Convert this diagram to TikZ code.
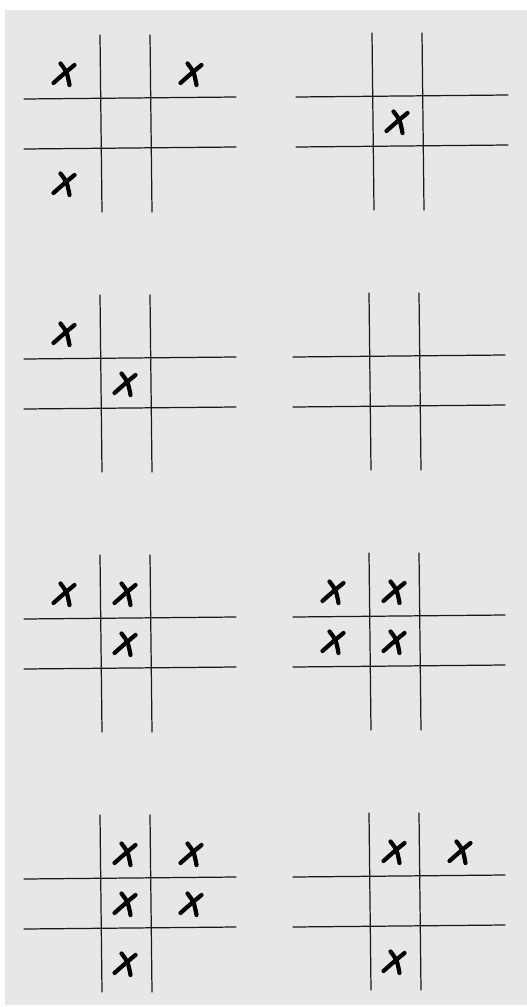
\documentclass[tikz,border=0pt]{standalone}
\usepackage{tikz}
\usetikzlibrary{calc}
\definecolor{fondo}{HTML}{E6E7E9}
\tikzset{
  linea/.style  = {black!90, line width=0.7pt, line cap=round},
  trazo/.style  = {black, line width=2.4pt, line cap=round},
  equis/.pic    = {
    \draw[trazo] (-10.5,9) .. controls (-1,0.5) .. (10.5,-9);
    \draw[trazo] (-3.5,-10.5) .. controls (3,-2) .. (5.5,11);
  },
  tablero/.pic  = {
    \draw[linea] (-25,-88) -- (-23,89);
    \draw[linea] (25,-88) -- (27,89);
    \draw[linea] (-101,-24) -- (111,-26);
    \draw[linea] (-101,26) -- (111,24);
  }
}

\begin{document}
\begin{tikzpicture}[x=0.02cm, y=-0.02cm]
  \useasboundingbox (0,0) rectangle (527,1007);
  \fill[fondo] (5,10) rectangle (527,1005);

  % centros de los tableros
  \coordinate (T1) at (125,123);
  \coordinate (T2) at (397,121);
  \coordinate (T3) at (125,383);
  \coordinate (T4) at (394,381);
  \coordinate (T5) at (125,643);
  \coordinate (T6) at (394,641);
  \coordinate (T7) at (125,903);
  \coordinate (T8) at (394,901);

  \foreach \t in {T1,T2,T3,T4,T5,T6,T7,T8}{
    \pic at (\t) {tablero};
  }

  % columnas: -61, 0, 66 ; filas: -49, 1, 61
  \foreach \c/\r in {-61/-49, 66/-49, -61/61}
    \pic at ($(T1)+(\c,\r)$) {equis};
  \pic at ($(T2)+(0,1)$) {equis};
  \foreach \c/\r in {-61/-49, 0/1}
    \pic at ($(T3)+(\c,\r)$) {equis};
  \foreach \c/\r in {-61/-49, 0/-49, 0/1}
    \pic at ($(T5)+(\c,\r)$) {equis};
  \foreach \c/\r in {-61/-49, 0/-49, -61/1, 0/1}
    \pic at ($(T6)+(\c,\r)$) {equis};
  \foreach \c/\r in {0/-49, 66/-49, 0/1, 66/1, 0/61}
    \pic at ($(T7)+(\c,\r)$) {equis};
  \foreach \c/\r in {0/-49, 66/-49, 0/61}
    \pic at ($(T8)+(\c,\r)$) {equis};
\end{tikzpicture}
\end{document}
